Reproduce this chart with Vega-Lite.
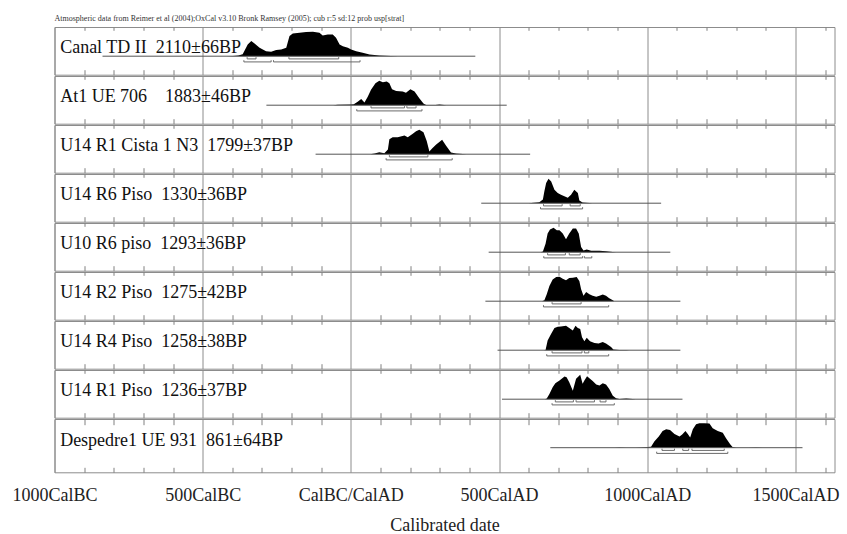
{
  "$schema": "https://vega.github.io/schema/vega-lite/v6.json",
  "autosize": "pad",
  "padding": {"left": 10.5, "top": 15, "right": 5, "bottom": 5},
  "background": "white",
  "title": {"text": "Atmospheric data from Reimer et al (2004);OxCal v3.10 Bronk Ramsey (2005); cub r:5 sd:12 prob usp[strat]", "anchor": "start", "frame": "group", "font": "Liberation Serif", "fontSize": 8, "fontWeight": "normal", "color": "#333333", "offset": 3},
  "config": {"view": {"stroke": "#8c8c8c", "strokeWidth": 1}, "font": "Liberation Serif"},
  "spacing": -1.3,
  "resolve": {"scale": {"x": "independent", "y": "independent"}},
  "datasets": {
    "d": [
      {"sample": "Canal TD II", "kind": "label", "text": "Canal TD II\u00a0\u00a02110±66BP"},
      {"sample": "Canal TD II", "kind": "line", "from": -838, "to": 420},
      {"sample": "Canal TD II", "kind": "r68", "from": -350, "to": -320},
      {"sample": "Canal TD II", "kind": "r68", "from": -209, "to": -41},
      {"sample": "Canal TD II", "kind": "r95", "from": -361, "to": -269},
      {"sample": "Canal TD II", "kind": "r95", "from": -261, "to": 31},
      {"sample": "Canal TD II", "kind": "p", "year": -420, "p": 0},
      {"sample": "Canal TD II", "kind": "p", "year": -398, "p": 0.01},
      {"sample": "Canal TD II", "kind": "p", "year": -380, "p": 0.03},
      {"sample": "Canal TD II", "kind": "p", "year": -365, "p": 0.08},
      {"sample": "Canal TD II", "kind": "p", "year": -348, "p": 0.48},
      {"sample": "Canal TD II", "kind": "p", "year": -336, "p": 0.62},
      {"sample": "Canal TD II", "kind": "p", "year": -325, "p": 0.52},
      {"sample": "Canal TD II", "kind": "p", "year": -308, "p": 0.34},
      {"sample": "Canal TD II", "kind": "p", "year": -286, "p": 0.2},
      {"sample": "Canal TD II", "kind": "p", "year": -269, "p": 0.18},
      {"sample": "Canal TD II", "kind": "p", "year": -252, "p": 0.25},
      {"sample": "Canal TD II", "kind": "p", "year": -235, "p": 0.27},
      {"sample": "Canal TD II", "kind": "p", "year": -218, "p": 0.34},
      {"sample": "Canal TD II", "kind": "p", "year": -207, "p": 0.82},
      {"sample": "Canal TD II", "kind": "p", "year": -196, "p": 0.93},
      {"sample": "Canal TD II", "kind": "p", "year": -173, "p": 0.96},
      {"sample": "Canal TD II", "kind": "p", "year": -151, "p": 0.99},
      {"sample": "Canal TD II", "kind": "p", "year": -128, "p": 1.0},
      {"sample": "Canal TD II", "kind": "p", "year": -106, "p": 0.96},
      {"sample": "Canal TD II", "kind": "p", "year": -95, "p": 0.85},
      {"sample": "Canal TD II", "kind": "p", "year": -78, "p": 0.89},
      {"sample": "Canal TD II", "kind": "p", "year": -61, "p": 0.89},
      {"sample": "Canal TD II", "kind": "p", "year": -50, "p": 0.75},
      {"sample": "Canal TD II", "kind": "p", "year": -38, "p": 0.48},
      {"sample": "Canal TD II", "kind": "p", "year": -27, "p": 0.41},
      {"sample": "Canal TD II", "kind": "p", "year": -10, "p": 0.34},
      {"sample": "Canal TD II", "kind": "p", "year": 1, "p": 0.27},
      {"sample": "Canal TD II", "kind": "p", "year": 18, "p": 0.2},
      {"sample": "Canal TD II", "kind": "p", "year": 40, "p": 0.14},
      {"sample": "Canal TD II", "kind": "p", "year": 63, "p": 0.07},
      {"sample": "Canal TD II", "kind": "p", "year": 96, "p": 0.03},
      {"sample": "Canal TD II", "kind": "p", "year": 136, "p": 0.01},
      {"sample": "Canal TD II", "kind": "p", "year": 160, "p": 0},

      {"sample": "At1 UE 706", "kind": "label", "text": "At1 UE 706\u00a0\u00a0\u00a0\u00a01883±46BP"},
      {"sample": "At1 UE 706", "kind": "line", "from": -285, "to": 526},
      {"sample": "At1 UE 706", "kind": "r68", "from": 68, "to": 181},
      {"sample": "At1 UE 706", "kind": "r68", "from": 189, "to": 220},
      {"sample": "At1 UE 706", "kind": "r95", "from": 20, "to": 240},
      {"sample": "At1 UE 706", "kind": "p", "year": -60, "p": 0},
      {"sample": "At1 UE 706", "kind": "p", "year": -44, "p": 0.02},
      {"sample": "At1 UE 706", "kind": "p", "year": 1, "p": 0.03},
      {"sample": "At1 UE 706", "kind": "p", "year": 10, "p": 0.04},
      {"sample": "At1 UE 706", "kind": "p", "year": 23, "p": 0.14},
      {"sample": "At1 UE 706", "kind": "p", "year": 35, "p": 0.25},
      {"sample": "At1 UE 706", "kind": "p", "year": 46, "p": 0.11},
      {"sample": "At1 UE 706", "kind": "p", "year": 57, "p": 0.35},
      {"sample": "At1 UE 706", "kind": "p", "year": 68, "p": 0.63},
      {"sample": "At1 UE 706", "kind": "p", "year": 83, "p": 0.9},
      {"sample": "At1 UE 706", "kind": "p", "year": 96, "p": 1.0},
      {"sample": "At1 UE 706", "kind": "p", "year": 108, "p": 0.94},
      {"sample": "At1 UE 706", "kind": "p", "year": 121, "p": 0.97},
      {"sample": "At1 UE 706", "kind": "p", "year": 130, "p": 0.9},
      {"sample": "At1 UE 706", "kind": "p", "year": 139, "p": 0.65},
      {"sample": "At1 UE 706", "kind": "p", "year": 153, "p": 0.58},
      {"sample": "At1 UE 706", "kind": "p", "year": 175, "p": 0.56},
      {"sample": "At1 UE 706", "kind": "p", "year": 186, "p": 0.51},
      {"sample": "At1 UE 706", "kind": "p", "year": 201, "p": 0.65},
      {"sample": "At1 UE 706", "kind": "p", "year": 215, "p": 0.56},
      {"sample": "At1 UE 706", "kind": "p", "year": 231, "p": 0.28},
      {"sample": "At1 UE 706", "kind": "p", "year": 245, "p": 0.07},
      {"sample": "At1 UE 706", "kind": "p", "year": 254, "p": 0.01},
      {"sample": "At1 UE 706", "kind": "p", "year": 285, "p": 0.01},
      {"sample": "At1 UE 706", "kind": "p", "year": 299, "p": 0.03},
      {"sample": "At1 UE 706", "kind": "p", "year": 322, "p": 0},

      {"sample": "U14 R1 Cista 1 N3", "kind": "label", "text": "U14 R1 Cista 1 N3\u00a0\u00a01799±37BP"},
      {"sample": "U14 R1 Cista 1 N3", "kind": "line", "from": -119, "to": 605},
      {"sample": "U14 R1 Cista 1 N3", "kind": "r68", "from": 130, "to": 260},
      {"sample": "U14 R1 Cista 1 N3", "kind": "r95", "from": 119, "to": 342},
      {"sample": "U14 R1 Cista 1 N3", "kind": "p", "year": 65, "p": 0},
      {"sample": "U14 R1 Cista 1 N3", "kind": "p", "year": 80, "p": 0.03},
      {"sample": "U14 R1 Cista 1 N3", "kind": "p", "year": 96, "p": 0.08},
      {"sample": "U14 R1 Cista 1 N3", "kind": "p", "year": 113, "p": 0.04},
      {"sample": "U14 R1 Cista 1 N3", "kind": "p", "year": 125, "p": 0.19},
      {"sample": "U14 R1 Cista 1 N3", "kind": "p", "year": 130, "p": 0.61},
      {"sample": "U14 R1 Cista 1 N3", "kind": "p", "year": 141, "p": 0.69},
      {"sample": "U14 R1 Cista 1 N3", "kind": "p", "year": 158, "p": 0.69},
      {"sample": "U14 R1 Cista 1 N3", "kind": "p", "year": 181, "p": 0.76},
      {"sample": "U14 R1 Cista 1 N3", "kind": "p", "year": 192, "p": 0.69},
      {"sample": "U14 R1 Cista 1 N3", "kind": "p", "year": 209, "p": 0.83},
      {"sample": "U14 R1 Cista 1 N3", "kind": "p", "year": 220, "p": 0.94},
      {"sample": "U14 R1 Cista 1 N3", "kind": "p", "year": 231, "p": 1.0},
      {"sample": "U14 R1 Cista 1 N3", "kind": "p", "year": 245, "p": 0.9},
      {"sample": "U14 R1 Cista 1 N3", "kind": "p", "year": 256, "p": 0.54},
      {"sample": "U14 R1 Cista 1 N3", "kind": "p", "year": 265, "p": 0.11},
      {"sample": "U14 R1 Cista 1 N3", "kind": "p", "year": 274, "p": 0.23},
      {"sample": "U14 R1 Cista 1 N3", "kind": "p", "year": 288, "p": 0.4},
      {"sample": "U14 R1 Cista 1 N3", "kind": "p", "year": 308, "p": 0.59},
      {"sample": "U14 R1 Cista 1 N3", "kind": "p", "year": 322, "p": 0.33},
      {"sample": "U14 R1 Cista 1 N3", "kind": "p", "year": 338, "p": 0.07},
      {"sample": "U14 R1 Cista 1 N3", "kind": "p", "year": 355, "p": 0.03},
      {"sample": "U14 R1 Cista 1 N3", "kind": "p", "year": 378, "p": 0.01},
      {"sample": "U14 R1 Cista 1 N3", "kind": "p", "year": 390, "p": 0},

      {"sample": "U14 R6 Piso", "kind": "label", "text": "U14 R6 Piso\u00a0\u00a01330±36BP"},
      {"sample": "U14 R6 Piso", "kind": "line", "from": 440, "to": 1047},
      {"sample": "U14 R6 Piso", "kind": "r68", "from": 650, "to": 713},
      {"sample": "U14 R6 Piso", "kind": "r68", "from": 740, "to": 774},
      {"sample": "U14 R6 Piso", "kind": "r95", "from": 640, "to": 782},
      {"sample": "U14 R6 Piso", "kind": "p", "year": 600, "p": 0},
      {"sample": "U14 R6 Piso", "kind": "p", "year": 608, "p": 0.01},
      {"sample": "U14 R6 Piso", "kind": "p", "year": 636, "p": 0.04},
      {"sample": "U14 R6 Piso", "kind": "p", "year": 648, "p": 0.15},
      {"sample": "U14 R6 Piso", "kind": "p", "year": 653, "p": 0.49},
      {"sample": "U14 R6 Piso", "kind": "p", "year": 659, "p": 0.82},
      {"sample": "U14 R6 Piso", "kind": "p", "year": 667, "p": 1.0},
      {"sample": "U14 R6 Piso", "kind": "p", "year": 676, "p": 0.89},
      {"sample": "U14 R6 Piso", "kind": "p", "year": 687, "p": 0.55},
      {"sample": "U14 R6 Piso", "kind": "p", "year": 698, "p": 0.42},
      {"sample": "U14 R6 Piso", "kind": "p", "year": 709, "p": 0.35},
      {"sample": "U14 R6 Piso", "kind": "p", "year": 732, "p": 0.22},
      {"sample": "U14 R6 Piso", "kind": "p", "year": 743, "p": 0.35},
      {"sample": "U14 R6 Piso", "kind": "p", "year": 754, "p": 0.55},
      {"sample": "U14 R6 Piso", "kind": "p", "year": 766, "p": 0.42},
      {"sample": "U14 R6 Piso", "kind": "p", "year": 771, "p": 0.11},
      {"sample": "U14 R6 Piso", "kind": "p", "year": 782, "p": 0.03},
      {"sample": "U14 R6 Piso", "kind": "p", "year": 805, "p": 0.01},
      {"sample": "U14 R6 Piso", "kind": "p", "year": 815, "p": 0},

      {"sample": "U10 R6 piso", "kind": "label", "text": "U10 R6 piso\u00a0\u00a01293±36BP"},
      {"sample": "U10 R6 piso", "kind": "line", "from": 465, "to": 1078},
      {"sample": "U10 R6 piso", "kind": "r68", "from": 664, "to": 724},
      {"sample": "U10 R6 piso", "kind": "r68", "from": 737, "to": 774},
      {"sample": "U10 R6 piso", "kind": "r95", "from": 651, "to": 782},
      {"sample": "U10 R6 piso", "kind": "r95", "from": 788, "to": 813},
      {"sample": "U10 R6 piso", "kind": "p", "year": 640, "p": 0},
      {"sample": "U10 R6 piso", "kind": "p", "year": 648, "p": 0.03},
      {"sample": "U10 R6 piso", "kind": "p", "year": 657, "p": 0.35},
      {"sample": "U10 R6 piso", "kind": "p", "year": 664, "p": 0.76},
      {"sample": "U10 R6 piso", "kind": "p", "year": 672, "p": 0.93},
      {"sample": "U10 R6 piso", "kind": "p", "year": 684, "p": 1.0},
      {"sample": "U10 R6 piso", "kind": "p", "year": 695, "p": 0.9},
      {"sample": "U10 R6 piso", "kind": "p", "year": 704, "p": 0.9},
      {"sample": "U10 R6 piso", "kind": "p", "year": 715, "p": 0.76},
      {"sample": "U10 R6 piso", "kind": "p", "year": 726, "p": 0.53},
      {"sample": "U10 R6 piso", "kind": "p", "year": 737, "p": 0.76},
      {"sample": "U10 R6 piso", "kind": "p", "year": 749, "p": 0.97},
      {"sample": "U10 R6 piso", "kind": "p", "year": 760, "p": 0.97},
      {"sample": "U10 R6 piso", "kind": "p", "year": 769, "p": 0.76},
      {"sample": "U10 R6 piso", "kind": "p", "year": 777, "p": 0.21},
      {"sample": "U10 R6 piso", "kind": "p", "year": 785, "p": 0.07},
      {"sample": "U10 R6 piso", "kind": "p", "year": 796, "p": 0.11},
      {"sample": "U10 R6 piso", "kind": "p", "year": 811, "p": 0.06},
      {"sample": "U10 R6 piso", "kind": "p", "year": 839, "p": 0.06},
      {"sample": "U10 R6 piso", "kind": "p", "year": 861, "p": 0.04},
      {"sample": "U10 R6 piso", "kind": "p", "year": 884, "p": 0.01},
      {"sample": "U10 R6 piso", "kind": "p", "year": 895, "p": 0},

      {"sample": "U14 R2 Piso", "kind": "label", "text": "U14 R2 Piso\u00a0\u00a01275±42BP"},
      {"sample": "U14 R2 Piso", "kind": "line", "from": 454, "to": 1112},
      {"sample": "U14 R2 Piso", "kind": "r68", "from": 679, "to": 777},
      {"sample": "U14 R2 Piso", "kind": "r95", "from": 650, "to": 870},
      {"sample": "U14 R2 Piso", "kind": "p", "year": 645, "p": 0},
      {"sample": "U14 R2 Piso", "kind": "p", "year": 653, "p": 0.04},
      {"sample": "U14 R2 Piso", "kind": "p", "year": 661, "p": 0.28},
      {"sample": "U14 R2 Piso", "kind": "p", "year": 670, "p": 0.62},
      {"sample": "U14 R2 Piso", "kind": "p", "year": 681, "p": 0.89},
      {"sample": "U14 R2 Piso", "kind": "p", "year": 693, "p": 0.99},
      {"sample": "U14 R2 Piso", "kind": "p", "year": 704, "p": 1.0},
      {"sample": "U14 R2 Piso", "kind": "p", "year": 715, "p": 0.92},
      {"sample": "U14 R2 Piso", "kind": "p", "year": 726, "p": 0.86},
      {"sample": "U14 R2 Piso", "kind": "p", "year": 737, "p": 0.95},
      {"sample": "U14 R2 Piso", "kind": "p", "year": 749, "p": 0.96},
      {"sample": "U14 R2 Piso", "kind": "p", "year": 762, "p": 0.99},
      {"sample": "U14 R2 Piso", "kind": "p", "year": 771, "p": 0.82},
      {"sample": "U14 R2 Piso", "kind": "p", "year": 777, "p": 0.49},
      {"sample": "U14 R2 Piso", "kind": "p", "year": 785, "p": 0.22},
      {"sample": "U14 R2 Piso", "kind": "p", "year": 794, "p": 0.38},
      {"sample": "U14 R2 Piso", "kind": "p", "year": 805, "p": 0.28},
      {"sample": "U14 R2 Piso", "kind": "p", "year": 816, "p": 0.22},
      {"sample": "U14 R2 Piso", "kind": "p", "year": 828, "p": 0.18},
      {"sample": "U14 R2 Piso", "kind": "p", "year": 839, "p": 0.22},
      {"sample": "U14 R2 Piso", "kind": "p", "year": 850, "p": 0.27},
      {"sample": "U14 R2 Piso", "kind": "p", "year": 861, "p": 0.22},
      {"sample": "U14 R2 Piso", "kind": "p", "year": 872, "p": 0.12},
      {"sample": "U14 R2 Piso", "kind": "p", "year": 884, "p": 0.04},
      {"sample": "U14 R2 Piso", "kind": "p", "year": 889, "p": 0},

      {"sample": "U14 R4 Piso", "kind": "label", "text": "U14 R4 Piso\u00a0\u00a01258±38BP"},
      {"sample": "U14 R4 Piso", "kind": "line", "from": 495, "to": 1112},
      {"sample": "U14 R4 Piso", "kind": "r68", "from": 679, "to": 780},
      {"sample": "U14 R4 Piso", "kind": "r68", "from": 788, "to": 803},
      {"sample": "U14 R4 Piso", "kind": "r95", "from": 661, "to": 870},
      {"sample": "U14 R4 Piso", "kind": "p", "year": 650, "p": 0},
      {"sample": "U14 R4 Piso", "kind": "p", "year": 657, "p": 0.01},
      {"sample": "U14 R4 Piso", "kind": "p", "year": 664, "p": 0.4},
      {"sample": "U14 R4 Piso", "kind": "p", "year": 676, "p": 0.67},
      {"sample": "U14 R4 Piso", "kind": "p", "year": 687, "p": 0.91},
      {"sample": "U14 R4 Piso", "kind": "p", "year": 698, "p": 0.96},
      {"sample": "U14 R4 Piso", "kind": "p", "year": 709, "p": 0.97},
      {"sample": "U14 R4 Piso", "kind": "p", "year": 726, "p": 1.0},
      {"sample": "U14 R4 Piso", "kind": "p", "year": 737, "p": 0.91},
      {"sample": "U14 R4 Piso", "kind": "p", "year": 749, "p": 0.8},
      {"sample": "U14 R4 Piso", "kind": "p", "year": 758, "p": 1.0},
      {"sample": "U14 R4 Piso", "kind": "p", "year": 766, "p": 0.91},
      {"sample": "U14 R4 Piso", "kind": "p", "year": 774, "p": 0.87},
      {"sample": "U14 R4 Piso", "kind": "p", "year": 780, "p": 0.53},
      {"sample": "U14 R4 Piso", "kind": "p", "year": 788, "p": 0.37},
      {"sample": "U14 R4 Piso", "kind": "p", "year": 796, "p": 0.51},
      {"sample": "U14 R4 Piso", "kind": "p", "year": 807, "p": 0.37},
      {"sample": "U14 R4 Piso", "kind": "p", "year": 822, "p": 0.29},
      {"sample": "U14 R4 Piso", "kind": "p", "year": 836, "p": 0.27},
      {"sample": "U14 R4 Piso", "kind": "p", "year": 850, "p": 0.33},
      {"sample": "U14 R4 Piso", "kind": "p", "year": 861, "p": 0.27},
      {"sample": "U14 R4 Piso", "kind": "p", "year": 878, "p": 0.13},
      {"sample": "U14 R4 Piso", "kind": "p", "year": 886, "p": 0.03},
      {"sample": "U14 R4 Piso", "kind": "p", "year": 906, "p": 0.01},
      {"sample": "U14 R4 Piso", "kind": "p", "year": 929, "p": 0.01},
      {"sample": "U14 R4 Piso", "kind": "p", "year": 940, "p": 0},

      {"sample": "U14 R1 Piso", "kind": "label", "text": "U14 R1 Piso\u00a0\u00a01236±37BP"},
      {"sample": "U14 R1 Piso", "kind": "line", "from": 510, "to": 1119},
      {"sample": "U14 R1 Piso", "kind": "r68", "from": 690, "to": 751},
      {"sample": "U14 R1 Piso", "kind": "r68", "from": 760, "to": 822},
      {"sample": "U14 R1 Piso", "kind": "r68", "from": 841, "to": 861},
      {"sample": "U14 R1 Piso", "kind": "r95", "from": 679, "to": 889},
      {"sample": "U14 R1 Piso", "kind": "p", "year": 655, "p": 0},
      {"sample": "U14 R1 Piso", "kind": "p", "year": 661, "p": 0.03},
      {"sample": "U14 R1 Piso", "kind": "p", "year": 670, "p": 0.21},
      {"sample": "U14 R1 Piso", "kind": "p", "year": 681, "p": 0.49},
      {"sample": "U14 R1 Piso", "kind": "p", "year": 690, "p": 0.65},
      {"sample": "U14 R1 Piso", "kind": "p", "year": 704, "p": 0.76},
      {"sample": "U14 R1 Piso", "kind": "p", "year": 721, "p": 0.93},
      {"sample": "U14 R1 Piso", "kind": "p", "year": 728, "p": 0.9},
      {"sample": "U14 R1 Piso", "kind": "p", "year": 737, "p": 0.69},
      {"sample": "U14 R1 Piso", "kind": "p", "year": 749, "p": 0.35},
      {"sample": "U14 R1 Piso", "kind": "p", "year": 760, "p": 0.83},
      {"sample": "U14 R1 Piso", "kind": "p", "year": 774, "p": 1.0},
      {"sample": "U14 R1 Piso", "kind": "p", "year": 782, "p": 0.63},
      {"sample": "U14 R1 Piso", "kind": "p", "year": 788, "p": 0.76},
      {"sample": "U14 R1 Piso", "kind": "p", "year": 797, "p": 0.94},
      {"sample": "U14 R1 Piso", "kind": "p", "year": 807, "p": 0.83},
      {"sample": "U14 R1 Piso", "kind": "p", "year": 816, "p": 0.74},
      {"sample": "U14 R1 Piso", "kind": "p", "year": 828, "p": 0.6},
      {"sample": "U14 R1 Piso", "kind": "p", "year": 839, "p": 0.56},
      {"sample": "U14 R1 Piso", "kind": "p", "year": 850, "p": 0.65},
      {"sample": "U14 R1 Piso", "kind": "p", "year": 861, "p": 0.6},
      {"sample": "U14 R1 Piso", "kind": "p", "year": 872, "p": 0.42},
      {"sample": "U14 R1 Piso", "kind": "p", "year": 884, "p": 0.14},
      {"sample": "U14 R1 Piso", "kind": "p", "year": 895, "p": 0.04},
      {"sample": "U14 R1 Piso", "kind": "p", "year": 906, "p": 0.01},
      {"sample": "U14 R1 Piso", "kind": "p", "year": 929, "p": 0.03},
      {"sample": "U14 R1 Piso", "kind": "p", "year": 951, "p": 0.01},
      {"sample": "U14 R1 Piso", "kind": "p", "year": 962, "p": 0},

      {"sample": "Despedre1 UE 931", "kind": "label", "text": "Despedre1 UE 931\u00a0\u00a0861±64BP"},
      {"sample": "Despedre1 UE 931", "kind": "line", "from": 673, "to": 1524},
      {"sample": "Despedre1 UE 931", "kind": "r68", "from": 1050, "to": 1092},
      {"sample": "Despedre1 UE 931", "kind": "r68", "from": 1120, "to": 1140},
      {"sample": "Despedre1 UE 931", "kind": "r68", "from": 1151, "to": 1260},
      {"sample": "Despedre1 UE 931", "kind": "r95", "from": 1032, "to": 1272},
      {"sample": "Despedre1 UE 931", "kind": "p", "year": 890, "p": 0},
      {"sample": "Despedre1 UE 931", "kind": "p", "year": 906, "p": 0.01},
      {"sample": "Despedre1 UE 931", "kind": "p", "year": 930, "p": 0},
      {"sample": "Despedre1 UE 931", "kind": "p", "year": 960, "p": 0},
      {"sample": "Despedre1 UE 931", "kind": "p", "year": 979, "p": 0.01},
      {"sample": "Despedre1 UE 931", "kind": "p", "year": 1013, "p": 0.04},
      {"sample": "Despedre1 UE 931", "kind": "p", "year": 1024, "p": 0.25},
      {"sample": "Despedre1 UE 931", "kind": "p", "year": 1039, "p": 0.46},
      {"sample": "Despedre1 UE 931", "kind": "p", "year": 1052, "p": 0.68},
      {"sample": "Despedre1 UE 931", "kind": "p", "year": 1064, "p": 0.75},
      {"sample": "Despedre1 UE 931", "kind": "p", "year": 1077, "p": 0.72},
      {"sample": "Despedre1 UE 931", "kind": "p", "year": 1092, "p": 0.56},
      {"sample": "Despedre1 UE 931", "kind": "p", "year": 1109, "p": 0.46},
      {"sample": "Despedre1 UE 931", "kind": "p", "year": 1118, "p": 0.54},
      {"sample": "Despedre1 UE 931", "kind": "p", "year": 1129, "p": 0.68},
      {"sample": "Despedre1 UE 931", "kind": "p", "year": 1137, "p": 0.56},
      {"sample": "Despedre1 UE 931", "kind": "p", "year": 1145, "p": 0.42},
      {"sample": "Despedre1 UE 931", "kind": "p", "year": 1154, "p": 0.75},
      {"sample": "Despedre1 UE 931", "kind": "p", "year": 1165, "p": 0.96},
      {"sample": "Despedre1 UE 931", "kind": "p", "year": 1176, "p": 1.0},
      {"sample": "Despedre1 UE 931", "kind": "p", "year": 1193, "p": 1.0},
      {"sample": "Despedre1 UE 931", "kind": "p", "year": 1210, "p": 0.99},
      {"sample": "Despedre1 UE 931", "kind": "p", "year": 1221, "p": 0.79},
      {"sample": "Despedre1 UE 931", "kind": "p", "year": 1238, "p": 0.68},
      {"sample": "Despedre1 UE 931", "kind": "p", "year": 1255, "p": 0.61},
      {"sample": "Despedre1 UE 931", "kind": "p", "year": 1266, "p": 0.39},
      {"sample": "Despedre1 UE 931", "kind": "p", "year": 1280, "p": 0.14},
      {"sample": "Despedre1 UE 931", "kind": "p", "year": 1288, "p": 0.03},
      {"sample": "Despedre1 UE 931", "kind": "p", "year": 1300, "p": 0},
      {"sample": "Despedre1 UE 931", "kind": "p", "year": 1340, "p": 0},
      {"sample": "Despedre1 UE 931", "kind": "p", "year": 1367, "p": 0.01},
      {"sample": "Despedre1 UE 931", "kind": "p", "year": 1390, "p": 0}
    ]
  },
  "vconcat": [
    {
      "data": {"name": "d"},
      "transform": [{"filter": "datum.sample !== 'Despedre1 UE 931'"}],
      "facet": {"row": {"field": "sample", "type": "nominal", "title": null, "header": null,
        "sort": ["Canal TD II", "At1 UE 706", "U14 R1 Cista 1 N3", "U14 R6 Piso", "U10 R6 piso", "U14 R2 Piso", "U14 R4 Piso", "U14 R1 Piso"]}},
      "spacing": -1,
      "spec": {
        "width": 780,
        "height": 47.7,
        "layer": [
          {"transform": [{"filter": "datum.kind === 'p'"}],
           "mark": {"type": "area", "color": "black", "interpolate": "linear"},
           "encoding": {
             "x": {"field": "year", "type": "quantitative", "scale": {"domain": [-1000, 1632], "nice": false, "zero": false},
               "axis": {"orient": "bottom", "values": [-1000, -500, 0, 500, 1000, 1500],
                 "labels": false, "ticks": false, "domain": false, "title": null, "grid": true, "gridColor": "#8c8c8c", "gridWidth": 1,
                 "minExtent": 0, "maxExtent": 0}},
             "y": {"field": "p", "type": "quantitative", "scale": {"domain": [-0.755, 1.192], "nice": false, "zero": false}, "axis": null},
             "y2": {"datum": 0}
           }},
          {"transform": [{"filter": "datum.kind === 'line'"}],
           "mark": {"type": "rule", "color": "#555555", "strokeWidth": 1},
           "encoding": {"x": {"field": "from", "type": "quantitative",
               "axis": {"orient": "top", "values": [-900,-800,-700,-600,-400,-300,-200,-100,100,200,300,400,600,700,800,900,1100,1200,1300,1400,1600],
                 "labels": false, "ticks": false, "domain": false, "title": null, "grid": true, "gridColor": "#808080", "gridWidth": 1,
                 "gridDash": [5, 39.4, 3.3, 0], "minExtent": 0, "maxExtent": 0}},
             "x2": {"field": "to"}, "y": {"datum": 0}}},
          {"transform": [{"filter": "datum.kind === 'r68'"}],
           "mark": {"type": "rule", "color": "#6a6a6a", "strokeWidth": 1},
           "encoding": {"x": {"field": "from", "type": "quantitative", "axis": null}, "x2": {"field": "to"}, "y": {"datum": -0.11}}},
          {"transform": [{"filter": "datum.kind === 'r68'"}],
           "mark": {"type": "rule", "color": "#6a6a6a", "strokeWidth": 1},
           "encoding": {"x": {"field": "from", "type": "quantitative", "axis": null}, "y": {"datum": -0.11}, "y2": {"datum": -0.04}}},
          {"transform": [{"filter": "datum.kind === 'r68'"}],
           "mark": {"type": "rule", "color": "#6a6a6a", "strokeWidth": 1},
           "encoding": {"x": {"field": "to", "type": "quantitative", "axis": null}, "y": {"datum": -0.11}, "y2": {"datum": -0.04}}},
          {"transform": [{"filter": "datum.kind === 'r95'"}],
           "mark": {"type": "rule", "color": "#6a6a6a", "strokeWidth": 1},
           "encoding": {"x": {"field": "from", "type": "quantitative", "axis": null}, "x2": {"field": "to"}, "y": {"datum": -0.233}}},
          {"transform": [{"filter": "datum.kind === 'r95'"}],
           "mark": {"type": "rule", "color": "#6a6a6a", "strokeWidth": 1},
           "encoding": {"x": {"field": "from", "type": "quantitative", "axis": null}, "y": {"datum": -0.233}, "y2": {"datum": -0.163}}},
          {"transform": [{"filter": "datum.kind === 'r95'"}],
           "mark": {"type": "rule", "color": "#6a6a6a", "strokeWidth": 1},
           "encoding": {"x": {"field": "to", "type": "quantitative", "axis": null}, "y": {"datum": -0.233}, "y2": {"datum": -0.163}}},
          {"transform": [{"filter": "datum.kind === 'label'"}],
           "mark": {"type": "text", "align": "left", "baseline": "alphabetic", "font": "Liberation Serif", "fontSize": 18, "color": "#111111"},
           "encoding": {"x": {"datum": -981, "axis": null}, "y": {"datum": 0.12}, "text": {"field": "text"}}}
        ]
      }
    },
    {
      "data": {"name": "d"},
      "transform": [{"filter": "datum.sample === 'Despedre1 UE 931'"}],
      "width": 780,
      "height": 53.3,
      "layer": [
        {"transform": [{"filter": "datum.kind === 'p'"}],
         "mark": {"type": "area", "color": "black", "interpolate": "linear"},
         "encoding": {
           "x": {"field": "year", "type": "quantitative", "scale": {"domain": [-1000, 1632], "nice": false, "zero": false},
             "axis": {"orient": "bottom", "values": [-1000, -500, 0, 500, 1000, 1500],
               "labelExpr": "datum.value === 0 ? 'CalBC/CalAD' : datum.value < 0 ? (-datum.value) + 'CalBC' : datum.value + 'CalAD'",
               "labelFont": "Liberation Serif", "labelFontSize": 18, "labelColor": "#222222", "labelPadding": 14, "labelOverlap": false, "labelFlush": false, "labelBound": false,
               "ticks": false, "domain": false,
               "title": "Calibrated date", "titleFont": "Liberation Serif", "titleFontSize": 18, "titleFontWeight": "normal", "titleColor": "#222222", "titlePadding": 12,
               "grid": true, "gridColor": "#8c8c8c", "gridWidth": 1}},
           "y": {"field": "p", "type": "quantitative", "scale": {"domain": [-1.004, 1.171], "nice": false, "zero": false}, "axis": null},
           "y2": {"datum": 0}
         }},
        {"transform": [{"filter": "datum.kind === 'line'"}],
         "mark": {"type": "rule", "color": "#555555", "strokeWidth": 1},
         "encoding": {"x": {"field": "from", "type": "quantitative",
             "axis": {"orient": "top", "values": [-900,-800,-700,-600,-400,-300,-200,-100,100,200,300,400,600,700,800,900,1100,1200,1300,1400,1600],
               "labels": false, "ticks": false, "domain": false, "title": null, "grid": true, "gridColor": "#808080", "gridWidth": 1,
               "gridDash": [5, 42.6, 5.7, 0], "minExtent": 0, "maxExtent": 0}},
           "x2": {"field": "to"}, "y": {"datum": 0}}},
        {"transform": [{"filter": "datum.kind === 'r68'"}],
         "mark": {"type": "rule", "color": "#6a6a6a", "strokeWidth": 1},
         "encoding": {"x": {"field": "from", "type": "quantitative", "axis": null}, "x2": {"field": "to"}, "y": {"datum": -0.11}}},
        {"transform": [{"filter": "datum.kind === 'r68'"}],
         "mark": {"type": "rule", "color": "#6a6a6a", "strokeWidth": 1},
         "encoding": {"x": {"field": "from", "type": "quantitative", "axis": null}, "y": {"datum": -0.11}, "y2": {"datum": -0.04}}},
        {"transform": [{"filter": "datum.kind === 'r68'"}],
         "mark": {"type": "rule", "color": "#6a6a6a", "strokeWidth": 1},
         "encoding": {"x": {"field": "to", "type": "quantitative", "axis": null}, "y": {"datum": -0.11}, "y2": {"datum": -0.04}}},
        {"transform": [{"filter": "datum.kind === 'r95'"}],
         "mark": {"type": "rule", "color": "#6a6a6a", "strokeWidth": 1},
         "encoding": {"x": {"field": "from", "type": "quantitative", "axis": null}, "x2": {"field": "to"}, "y": {"datum": -0.233}}},
        {"transform": [{"filter": "datum.kind === 'r95'"}],
         "mark": {"type": "rule", "color": "#6a6a6a", "strokeWidth": 1},
         "encoding": {"x": {"field": "from", "type": "quantitative", "axis": null}, "y": {"datum": -0.233}, "y2": {"datum": -0.163}}},
        {"transform": [{"filter": "datum.kind === 'r95'"}],
         "mark": {"type": "rule", "color": "#6a6a6a", "strokeWidth": 1},
         "encoding": {"x": {"field": "to", "type": "quantitative", "axis": null}, "y": {"datum": -0.233}, "y2": {"datum": -0.163}}},
        {"transform": [{"filter": "datum.kind === 'label'"}],
         "mark": {"type": "text", "align": "left", "baseline": "alphabetic", "font": "Liberation Serif", "fontSize": 18, "color": "#111111"},
         "encoding": {"x": {"datum": -981, "axis": null}, "y": {"datum": 0.05}, "text": {"field": "text"}}}
      ]
    }
  ]
}
